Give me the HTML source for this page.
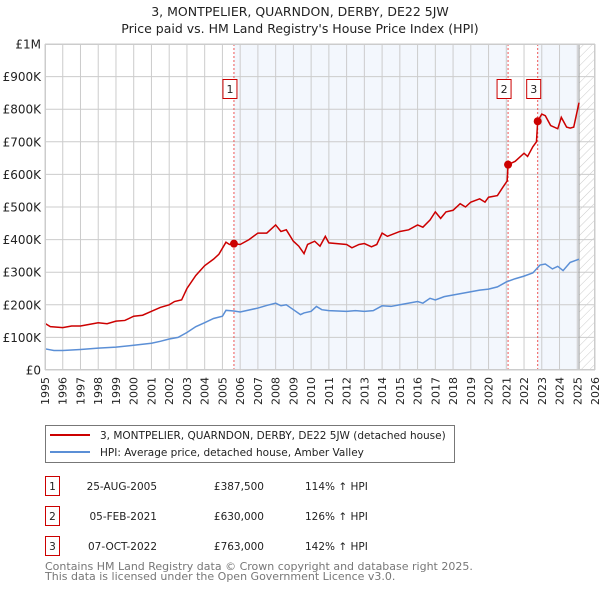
<!DOCTYPE html>
<html><head><meta charset="utf-8"><style>
body{margin:0;background:#fff;font-family:"DejaVu Sans","Liberation Sans",sans-serif}
svg text{font-family:"DejaVu Sans","Liberation Sans",sans-serif}
</style></head><body>
<svg id="chart" width="600" height="590" xmlns="http://www.w3.org/2000/svg">
<defs><pattern id="hatch" width="6" height="6" patternUnits="userSpaceOnUse" patternTransform="rotate(45)"><line x1="0" y1="0" x2="0" y2="6" stroke="#ccc" stroke-width="1"/></pattern></defs>
<text x="300" y="16" font-size="12.5" text-anchor="middle" fill="#222">3, MONTPELIER, QUARNDON, DERBY, DE22 5JW</text>
<text x="300" y="33" font-size="12.5" text-anchor="middle" fill="#222">Price paid vs. HM Land Registry's House Price Index (HPI)</text>
<g id="plot"></g>
<g>
<rect x="45.5" y="425.5" width="409" height="37" fill="#fff" stroke="#777"/>
<line x1="50" y1="435" x2="90" y2="435" stroke="#cc0000" stroke-width="2"/>
<text x="100" y="439" font-size="10.5" fill="#222">3, MONTPELIER, QUARNDON, DERBY, DE22 5JW (detached house)</text>
<line x1="50" y1="452" x2="90" y2="452" stroke="#5b8fd6" stroke-width="2"/>
<text x="100" y="456" font-size="10.5" fill="#222">HPI: Average price, detached house, Amber Valley</text>
</g>
<g font-size="10.5" fill="#222">
<rect x="45.5" y="476.5" width="14" height="19" fill="none" stroke="#cc0000"/><text x="52.5" y="490" text-anchor="middle">1</text>
<text x="157" y="490" text-anchor="end">25-AUG-2005</text><text x="264" y="490" text-anchor="end">£387,500</text><text x="305" y="490">114% ↑ HPI</text>
<rect x="45.5" y="506.5" width="14" height="19" fill="none" stroke="#cc0000"/><text x="52.5" y="520" text-anchor="middle">2</text>
<text x="157" y="520" text-anchor="end">05-FEB-2021</text><text x="264" y="520" text-anchor="end">£630,000</text><text x="305" y="520">126% ↑ HPI</text>
<rect x="45.5" y="536.5" width="14" height="19" fill="none" stroke="#cc0000"/><text x="52.5" y="550" text-anchor="middle">3</text>
<text x="157" y="550" text-anchor="end">07-OCT-2022</text><text x="264" y="550" text-anchor="end">£763,000</text><text x="305" y="550">142% ↑ HPI</text>
</g>
<text x="45" y="570" font-size="11" fill="#777">Contains HM Land Registry data © Crown copyright and database right 2025.</text>
<text x="45" y="580" font-size="11" fill="#777">This data is licensed under the Open Government Licence v3.0.</text>
</svg>
<script>
const yTicks=[0,100,200,300,400,500,600,700,800,900,1000];
const yTickLabels=["£0","£100K","£200K","£300K","£400K","£500K","£600K","£700K","£800K","£900K","£1M"];
const years=[1995,1996,1997,1998,1999,2000,2001,2002,2003,2004,2005,2006,2007,2008,2009,2010,2011,2012,2013,2014,2015,2016,2017,2018,2019,2020,2021,2022,2023,2024,2025,2026];
const hpiT=[1995,1995.5,1996,1997,1998,1999,2000,2001,2001.5,2002,2002.5,2003,2003.5,2004,2004.5,2005,2005.2,2005.65,2006,2007,2007.5,2008,2008.3,2008.6,2009,2009.4,2009.6,2010,2010.3,2010.6,2011,2012,2012.5,2013,2013.5,2014,2014.5,2015,2016,2016.3,2016.7,2017,2017.5,2018,2018.5,2019,2019.5,2020,2020.5,2021,2021.5,2022,2022.5,2022.9,2023.2,2023.6,2023.9,2024.2,2024.6,2025.1];
const hpiV=[65,60,60,63,67,70,76,82,88,95,100,115,133,145,158,165,183,181,178,190,198,205,197,200,185,170,175,180,195,185,182,180,182,180,182,197,195,200,210,205,220,215,225,230,235,240,245,248,255,270,280,288,298,322,325,310,318,305,330,340];
const priceT=[1995,1995.3,1996,1996.5,1997,1997.5,1998,1998.5,1999,1999.5,2000,2000.5,2001,2001.5,2002,2002.3,2002.7,2003,2003.5,2004,2004.5,2004.8,2005.2,2005.4,2005.65,2006,2006.5,2007,2007.5,2008,2008.3,2008.6,2009,2009.3,2009.6,2009.8,2010.2,2010.5,2010.8,2011,2012,2012.3,2012.7,2013,2013.4,2013.7,2014,2014.3,2015,2015.5,2016,2016.3,2016.7,2017,2017.3,2017.6,2018,2018.4,2018.7,2019,2019.5,2019.8,2020,2020.5,2020.8,2021.05,2021.1,2021.5,2022,2022.2,2022.5,2022.7,2022.77,2023,2023.2,2023.5,2023.9,2024.1,2024.4,2024.6,2024.8,2025.1];
const priceV=[143,133,130,135,135,140,145,142,150,152,165,168,180,192,200,210,215,250,290,320,340,355,392,385,387.5,385,400,420,420,445,425,430,395,380,357,385,395,380,410,390,385,375,385,388,378,385,420,410,425,430,445,438,460,485,465,485,490,510,500,515,525,515,530,535,560,580,630,640,665,655,685,700,763,785,780,750,740,775,745,742,745,820];
const saleT=[2005.65,2021.1,2022.77];
const saleV=[387.5,630,763];
const saleLabels=["1","2","3"];

const NS="http://www.w3.org/2000/svg";
const X0=45,X1=595,Y0=370,Y1=44,T0=1995,T1=2026,VMAX=1000;
const xs=t=>X0+(t-T0)/(T1-T0)*(X1-X0);
const ys=v=>Y0-v/VMAX*(Y0-Y1);
const g=document.getElementById('plot');
function mk(tag,attrs){const e=document.createElementNS(NS,tag);for(const k in attrs)e.setAttribute(k,attrs[k]);g.appendChild(e);return e;}
let e;
e=mk('rect',{x:xs(saleT[0]),y:Y1,width:xs(saleT[1])-xs(saleT[0]),height:Y0-Y1,fill:'#eef3fc',opacity:0.7});


e=mk('rect',{x:xs(saleT[2]),y:Y1,width:xs(2025.1)-xs(saleT[2]),height:Y0-Y1,fill:'#eef3fc',opacity:0.7});


e=mk('rect',{x:xs(2025.1),y:Y1,width:X1-xs(2025.1),height:Y0-Y1,fill:'url(#hatch)'});


years.forEach(yr=>{
 e=mk('line',{x1:xs(yr),x2:xs(yr),y1:Y1,y2:Y0,stroke:'#ccc','stroke-width':1});
 
 
 e=mk('text',{x:0,y:0,'font-size':11,fill:'#222','text-anchor':'end',transform:`translate(${xs(yr)+4},377) rotate(-90)`});
 e.textContent=yr;
 
 
});
yTicks.forEach((v,i)=>{
 e=mk('line',{x1:X0,x2:X1,y1:ys(v),y2:ys(v),stroke:'#ccc','stroke-width':1});
 
 
 e=mk('text',{x:41,y:ys(v)+4.5,'font-size':12,fill:'#222','text-anchor':'end'});
 e.textContent=yTickLabels[i];
 
 
});
e=mk('line',{x1:xs(2025.1),x2:xs(2025.1),y1:Y1,y2:Y0,stroke:'#999','stroke-width':1});


saleT.forEach((t,i)=>{
 e=mk('line',{x1:xs(t),x2:xs(t),y1:Y1,y2:Y0,stroke:'#ee5555','stroke-width':1,'stroke-dasharray':'2,2'});
 
 
});
e=mk('polyline',{points:hpiT.map((t,i)=>xs(t)+','+ys(hpiV[i])).join(' '),fill:'none',stroke:'#5b8fd6','stroke-width':1.5});


e=mk('polyline',{points:priceT.map((t,i)=>xs(t)+','+ys(priceV[i])).join(' '),fill:'none',stroke:'#cc0000','stroke-width':1.5});


saleT.forEach((t,i)=>{
 e=mk('circle',{cx:xs(t),cy:ys(saleV[i]),r:4,fill:'#cc0000'});
 
 
 const bx=xs(t)-4;
 e=mk('rect',{x:bx-7,y:79.5,width:14,height:19,fill:'#fff',stroke:'#cc0000'});
 
 
 e=mk('text',{x:bx,y:93,'font-size':11,fill:'#222','text-anchor':'middle'});
 e.textContent=saleLabels[i];
 
 
});
e=mk('rect',{x:X0+.5,y:Y1+.5,width:X1-X0-1,height:Y0-Y1-1,fill:'none',stroke:'#ccc'});


</script>
</body></html>
